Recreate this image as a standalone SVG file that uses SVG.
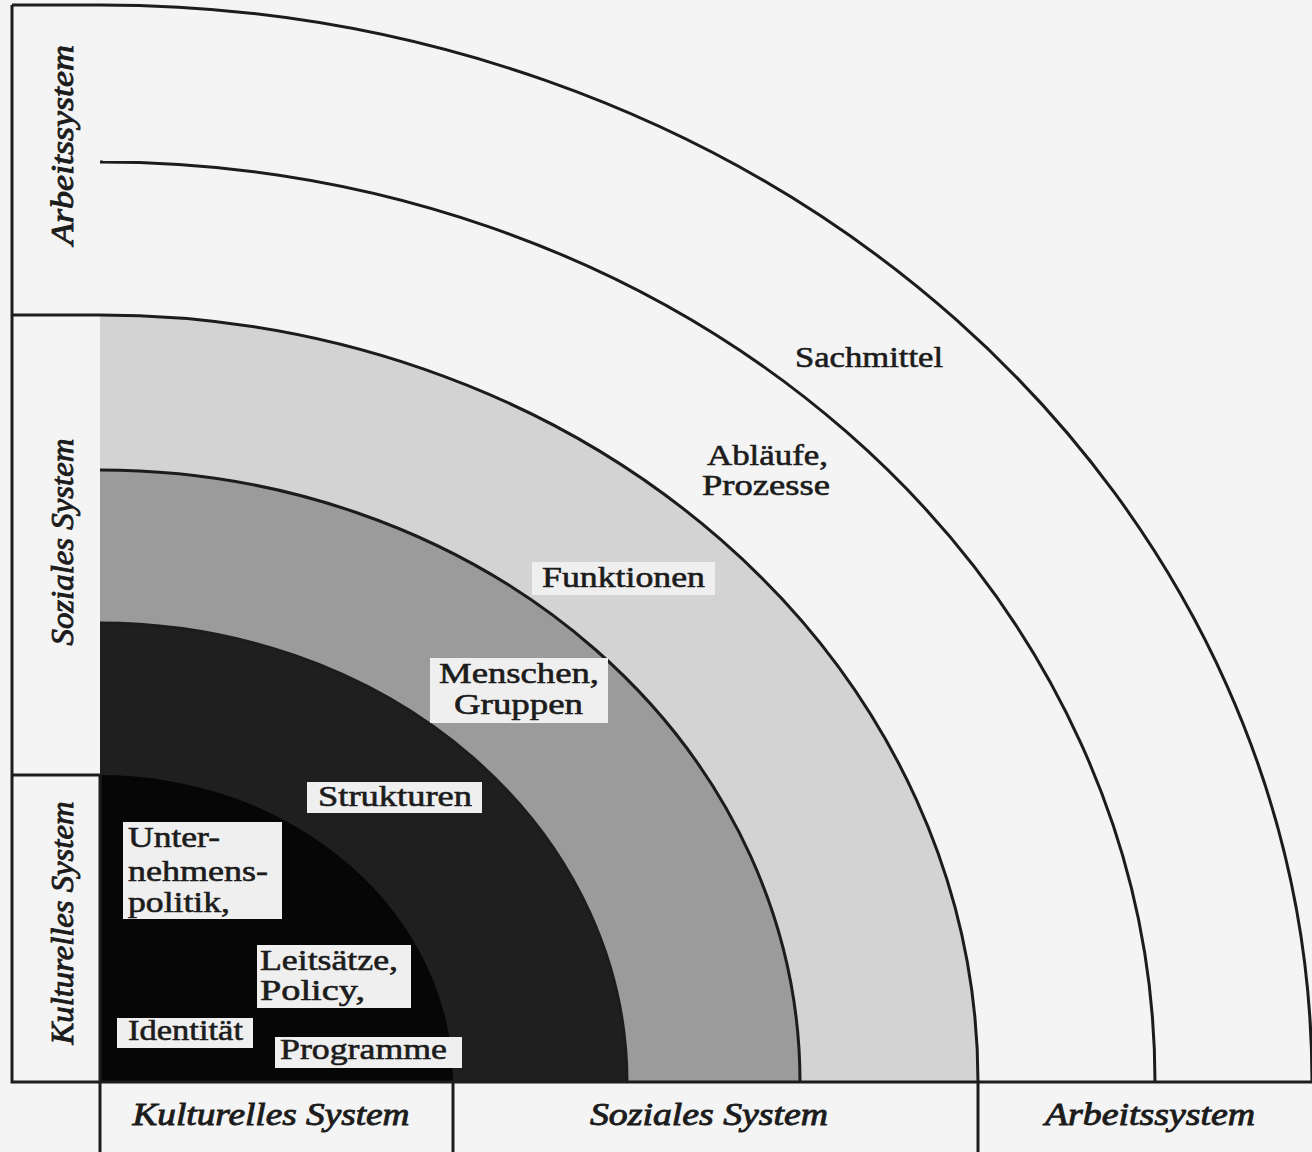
<svg xmlns="http://www.w3.org/2000/svg" width="1312" height="1152" viewBox="0 0 1312 1152">
<style>
.ln{fill:none;stroke:#1c1c1c;stroke-width:3}
.sys{font-family:"Liberation Serif",serif;font-style:italic;font-size:31px;fill:#1c1c1c;stroke:#1c1c1c;stroke-width:0.9;text-anchor:middle}
.lbl{font-family:"Liberation Serif",serif;font-size:30px;fill:#1c1c1c;stroke:#1c1c1c;stroke-width:0.6}
.box{fill:#efefef}
</style>
<rect x="0" y="0" width="1312" height="1152" fill="#f4f4f4"/>
<g id="bands">
<path d="M100,1082 L100,315 A878,767 0 0 1 978,1082 Z" fill="#d3d3d3"/>
<path d="M100,1082 L100,470 A700,612 0 0 1 800,1082 Z" fill="#9b9b9b"/>
<path d="M100,1082 L100,623 A527,459 0 0 1 627,1082 Z" fill="#1f1f1f"/>
<path d="M100,1082 L100,775 A353,307 0 0 1 453,1082 Z" fill="#060606"/>
</g>
<g id="connectors">
<path class="ln" d="M12,5 L100,5 A1212,1077 0 0 1 1312,1082"/>
<path class="ln" d="M103,162 L100,162 A1055,920 0 0 1 1155,1082"/>
<path class="ln" d="M12,315 L100,315 A878,767 0 0 1 978,1082 L978,1152"/>
<path class="ln" d="M100,470 A700,612 0 0 1 800,1082"/>
<path class="ln" d="M100,623 A527,459 0 0 1 627,1082"/>
<path class="ln" d="M12,775 L100,775"/>
<path class="ln" d="M12,5 L12,1082 L1312,1082"/>
<path class="ln" d="M100,775 L100,1152"/>
<path class="ln" d="M453,1082 L453,1152"/>
</g>
<g id="left-arbeitssystem"><text class="sys" transform="translate(73,145) rotate(-90)" textLength="200" lengthAdjust="spacingAndGlyphs">Arbeitssystem</text></g>
<g id="left-soziales"><text class="sys" transform="translate(73,542) rotate(-90)" textLength="207" lengthAdjust="spacingAndGlyphs">Soziales System</text></g>
<g id="left-kulturelles"><text class="sys" transform="translate(73,923) rotate(-90)" textLength="243" lengthAdjust="spacingAndGlyphs">Kulturelles System</text></g>
<g id="bottom-kulturelles"><text class="sys" x="271" y="1125" textLength="277" lengthAdjust="spacingAndGlyphs">Kulturelles System</text></g>
<g id="bottom-soziales"><text class="sys" x="709" y="1125" textLength="238" lengthAdjust="spacingAndGlyphs">Soziales System</text></g>
<g id="bottom-arbeitssystem"><text class="sys" x="1150" y="1125" textLength="210" lengthAdjust="spacingAndGlyphs">Arbeitssystem</text></g>
<g id="sachmittel"><text class="lbl" x="795" y="367" textLength="148" lengthAdjust="spacingAndGlyphs">Sachmittel</text></g>
<g id="ablaeufe"><text class="lbl" x="707" y="465" textLength="121" lengthAdjust="spacingAndGlyphs">Abläufe,</text><text class="lbl" x="702" y="495" textLength="128" lengthAdjust="spacingAndGlyphs">Prozesse</text></g>
<g id="funktionen"><rect class="box" x="532" y="562" width="183" height="33"/><text class="lbl" x="542" y="587" textLength="163" lengthAdjust="spacingAndGlyphs">Funktionen</text></g>
<g id="menschen"><rect class="box" x="430" y="658" width="178" height="65"/><text class="lbl" x="439" y="683" textLength="160" lengthAdjust="spacingAndGlyphs">Menschen,</text><text class="lbl" x="454" y="714" textLength="129" lengthAdjust="spacingAndGlyphs">Gruppen</text></g>
<g id="strukturen"><rect class="box" x="307" y="782" width="175" height="31"/><text class="lbl" x="318" y="806" textLength="154" lengthAdjust="spacingAndGlyphs">Strukturen</text></g>
<g id="unternehmenspolitik"><rect class="box" x="123" y="822" width="159" height="97"/><text class="lbl" x="128" y="847" textLength="92" lengthAdjust="spacingAndGlyphs">Unter-</text><text class="lbl" x="128" y="881" textLength="140" lengthAdjust="spacingAndGlyphs">nehmens-</text><text class="lbl" x="128" y="912" textLength="102" lengthAdjust="spacingAndGlyphs">politik,</text></g>
<g id="leitsaetze"><rect class="box" x="257" y="945" width="154" height="63"/><text class="lbl" x="260" y="970" textLength="138" lengthAdjust="spacingAndGlyphs">Leitsätze,</text><text class="lbl" x="260" y="1000" textLength="105" lengthAdjust="spacingAndGlyphs">Policy,</text></g>
<g id="identitaet"><rect class="box" x="117" y="1018" width="136" height="30"/><text class="lbl" x="128" y="1040" textLength="115" lengthAdjust="spacingAndGlyphs">Identität</text></g>
<g id="programme"><rect class="box" x="275" y="1037" width="187" height="31"/><text class="lbl" x="280" y="1059" textLength="167" lengthAdjust="spacingAndGlyphs">Programme</text></g>
</svg>
